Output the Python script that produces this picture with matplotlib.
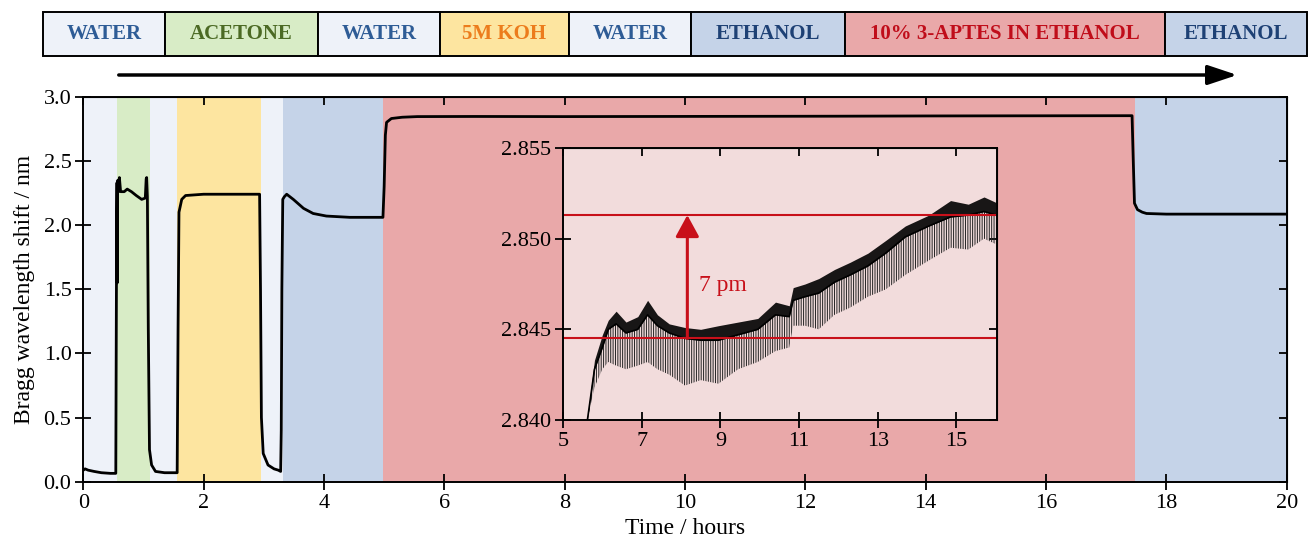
import numpy as np
import matplotlib
matplotlib.use("Agg")
import matplotlib.pyplot as plt
from matplotlib.patches import Rectangle, FancyArrowPatch

plt.rcParams['font.family'] = ['Liberation Serif', 'DejaVu Serif']
plt.rcParams['hatch.linewidth'] = 0.7

# phases (solution flowing over the fibre)
phase_names = ['WATER', 'ACETONE', 'WATER', '5M KOH', 'WATER', 'ETHANOL',
               '10% 3-APTES IN ETHANOL', 'ETHANOL']
phase_start = [0.0, 0.555, 1.108, 1.563, 2.953, 3.324, 4.975, 17.48]
phase_end = [0.555, 1.108, 1.563, 2.953, 3.324, 4.975, 17.48, 20.0]
phase_fill = ['#eef2f9', '#d8ecc6', '#eef2f9', '#fde5a0', '#eef2f9', '#c5d3e8',
              '#e9a8a9', '#c5d3e8']
phase_text = ['#2e5c96', '#4c6a24', '#2e5c96', '#ec7c1c', '#2e5c96', '#1e4175',
              '#c00d1a', '#1e4175']

# main trace
time_h = [0.0, 0.03, 0.08, 0.18, 0.3, 0.45, 0.54, 0.555, 0.56, 0.565,
          0.57, 0.575, 0.585, 0.6, 0.62, 0.68, 0.73, 0.8, 0.88, 0.97,
          1.03, 1.045, 1.053, 1.065, 1.08, 1.1, 1.135, 1.2, 1.35, 1.56,
          1.575, 1.59, 1.636, 1.7, 2.0, 2.5, 2.93, 2.945, 2.96, 2.99,
          3.07, 3.17, 3.24, 3.28, 3.29, 3.3, 3.315, 3.34, 3.38, 3.49,
          3.66, 3.82, 4.04, 4.43, 4.98, 5.0, 5.02, 5.04, 5.12, 5.3,
          5.55, 6.5, 8.0, 9.5, 11.0, 12.5, 14.0, 15.5, 17.43, 17.45,
          17.47, 17.52, 17.6, 17.67, 18.0, 19.0, 20.0]
shift_nm = [0.09, 0.10, 0.09, 0.08, 0.07, 0.065, 0.065, 2.10, 2.33, 1.55,
            2.30, 2.35, 2.26, 2.37, 2.26, 2.26, 2.28, 2.26, 2.23, 2.20,
            2.21, 2.36, 2.37, 2.22, 1.2, 0.25, 0.13, 0.08, 0.07, 0.07,
            1.2, 2.10, 2.20, 2.23, 2.24, 2.24, 2.24, 1.5, 0.5, 0.22,
            0.13, 0.10, 0.09, 0.08, 0.4, 1.5, 2.2, 2.22, 2.24, 2.20,
            2.13, 2.09, 2.07, 2.06, 2.06, 2.3, 2.7, 2.80, 2.83, 2.84,
            2.845, 2.846, 2.845, 2.846, 2.847, 2.848, 2.850, 2.851, 2.852, 2.5,
            2.17, 2.12, 2.10, 2.09, 2.085, 2.085, 2.085]

# inset: silanisation detail (trend + noise envelope)
inset_t = [5.62, 5.8, 6.0, 6.15, 6.35, 6.6, 6.9, 7.15, 7.4, 7.7,
           8.1, 8.5, 8.95, 9.45, 9.95, 10.4, 10.75, 10.85, 11.15, 11.5,
           11.9, 12.3, 12.75, 13.2, 13.7, 14.3, 14.85, 15.3, 15.7, 16.0]
inset_mid = [2.8400, 2.8428, 2.8440, 2.8450, 2.8453, 2.8448, 2.8450, 2.8458, 2.8452, 2.8448,
             2.8445, 2.8444, 2.8444, 2.8447, 2.8450, 2.8458, 2.8457, 2.8466, 2.8468, 2.8470,
             2.8476, 2.8480, 2.8485, 2.8492, 2.8501, 2.8507, 2.8512, 2.8513, 2.8515, 2.8513]
inset_hi = [2.8402, 2.8433, 2.8447, 2.8455, 2.8460, 2.8454, 2.8457, 2.8466, 2.8458, 2.8453,
            2.8451, 2.8450, 2.8452, 2.8454, 2.8456, 2.8465, 2.8463, 2.8473, 2.8475, 2.8478,
            2.8483, 2.8487, 2.8492, 2.8499, 2.8507, 2.8513, 2.8521, 2.8519, 2.8523, 2.8520]
inset_lo = [2.8400, 2.8418, 2.8428, 2.8432, 2.8430, 2.8428, 2.8430, 2.8432, 2.8428, 2.8425,
            2.8419, 2.8422, 2.8420, 2.8428, 2.8432, 2.8438, 2.8440, 2.8452, 2.8452, 2.8450,
            2.8458, 2.8462, 2.8468, 2.8472, 2.8480, 2.8488, 2.8495, 2.8494, 2.8500, 2.8497]
base_level = 2.8445
final_level = 2.8513
arrow_t = 8.16
shift_label = '7 pm'

red = '#c8101a'
W, H = 1315, 550
fig = plt.figure(figsize=(W / 100, H / 100), dpi=100)


def style_ticks(a):
    # crossing ticks on bottom/left, inward-only mirrored ticks top/right
    a.tick_params(direction='inout', length=11, width=1.3, labelsize=16, pad=3)
    for sp in a.spines.values():
        sp.set_linewidth(1.4)
    top = a.secondary_xaxis('top')
    top.set_xticks(a.get_xticks())
    top.tick_params(direction='in', length=6, width=1.3, labeltop=False)
    right = a.secondary_yaxis('right')
    right.set_yticks(a.get_yticks())
    right.tick_params(direction='in', length=6, width=1.3, labelright=False)


# ---- main axes
ax = fig.add_axes([83.3 / W, 1 - 481.7 / H, (1286.7 - 83.3) / W, (481.7 - 96.7) / H])
for s, e, c in zip(phase_start, phase_end, phase_fill):
    ax.axvspan(s, e, color=c, lw=0, zorder=0)
ax.plot(time_h, shift_nm, color='black', lw=2.0, zorder=3)
ax.set_xlim(0, 20)
ax.set_ylim(0, 3.0)
ax.set_xticks(np.arange(0, 21, 2))
ax.set_yticks(np.arange(0, 3.01, 0.5))
ax.yaxis.set_major_formatter(matplotlib.ticker.FormatStrFormatter('%.1f'))
style_ticks(ax)
ax.set_xlabel('Time / hours', fontsize=17, labelpad=4)
ax.set_ylabel('Bragg wavelength shift / nm', fontsize=17, labelpad=6)

# ---- inset
ins = fig.add_axes([563 / W, 1 - 420 / H, (997 - 563) / W, (420 - 148) / H])
ins.set_facecolor('#f2dcdc')
ins.fill_between(inset_t, inset_lo, inset_mid, facecolor='none', edgecolor='#222222',
                 hatch='|||||||', lw=0)
ins.fill_between(inset_t, inset_mid, inset_hi, color='black', alpha=0.9, lw=0)
ins.plot(inset_t, inset_mid, color='black', lw=1.2)
ins.axhline(base_level, color=red, lw=1.5)
ins.axhline(final_level, color=red, lw=1.5)
ins.annotate('', xy=(arrow_t, final_level), xytext=(arrow_t, base_level),
             arrowprops=dict(arrowstyle='-|>,head_length=0.55,head_width=0.3',
                             mutation_scale=24, color=red, lw=2.2, shrinkA=0, shrinkB=0))
ins.text(arrow_t + 0.3, 2.8474, shift_label, color=red, fontsize=17, va='center')
ins.set_xlim(5, 16.03)
ins.set_ylim(2.840, 2.855)
ins.set_xticks([5, 7, 9, 11, 13, 15])
ins.set_yticks([2.840, 2.845, 2.850, 2.855])
ins.yaxis.set_major_formatter(matplotlib.ticker.FormatStrFormatter('%.3f'))
style_ticks(ins)

# ---- banner of solutions
box_px = [43, 165, 318, 440, 569, 691, 845, 1165, 1307]
bn = fig.add_axes([43 / W, 1 - 56 / H, (1307 - 43) / W, 44 / H])
bn.set_xlim(43, 1307)
bn.set_ylim(0, 1)
bn.axis('off')
for i, name in enumerate(phase_names):
    x0, x1 = box_px[i], box_px[i + 1]
    bn.add_patch(Rectangle((x0, 0), x1 - x0, 1, facecolor=phase_fill[i],
                           edgecolor='black', lw=1.4, clip_on=False))
    bn.text((x0 + x1) / 2, 0.5, name, ha='center', va='center', fontsize=15,
            fontweight='bold', color=phase_text[i])

# flow direction arrow
fig.add_artist(FancyArrowPatch((116 / W, 1 - 75 / H), (1240 / W, 1 - 75 / H),
                               transform=fig.transFigure,
                               arrowstyle='-|>,head_length=0.6,head_width=0.2',
                               mutation_scale=30, lw=2.5, color='black'))

fig.savefig('out.png', dpi=100)
